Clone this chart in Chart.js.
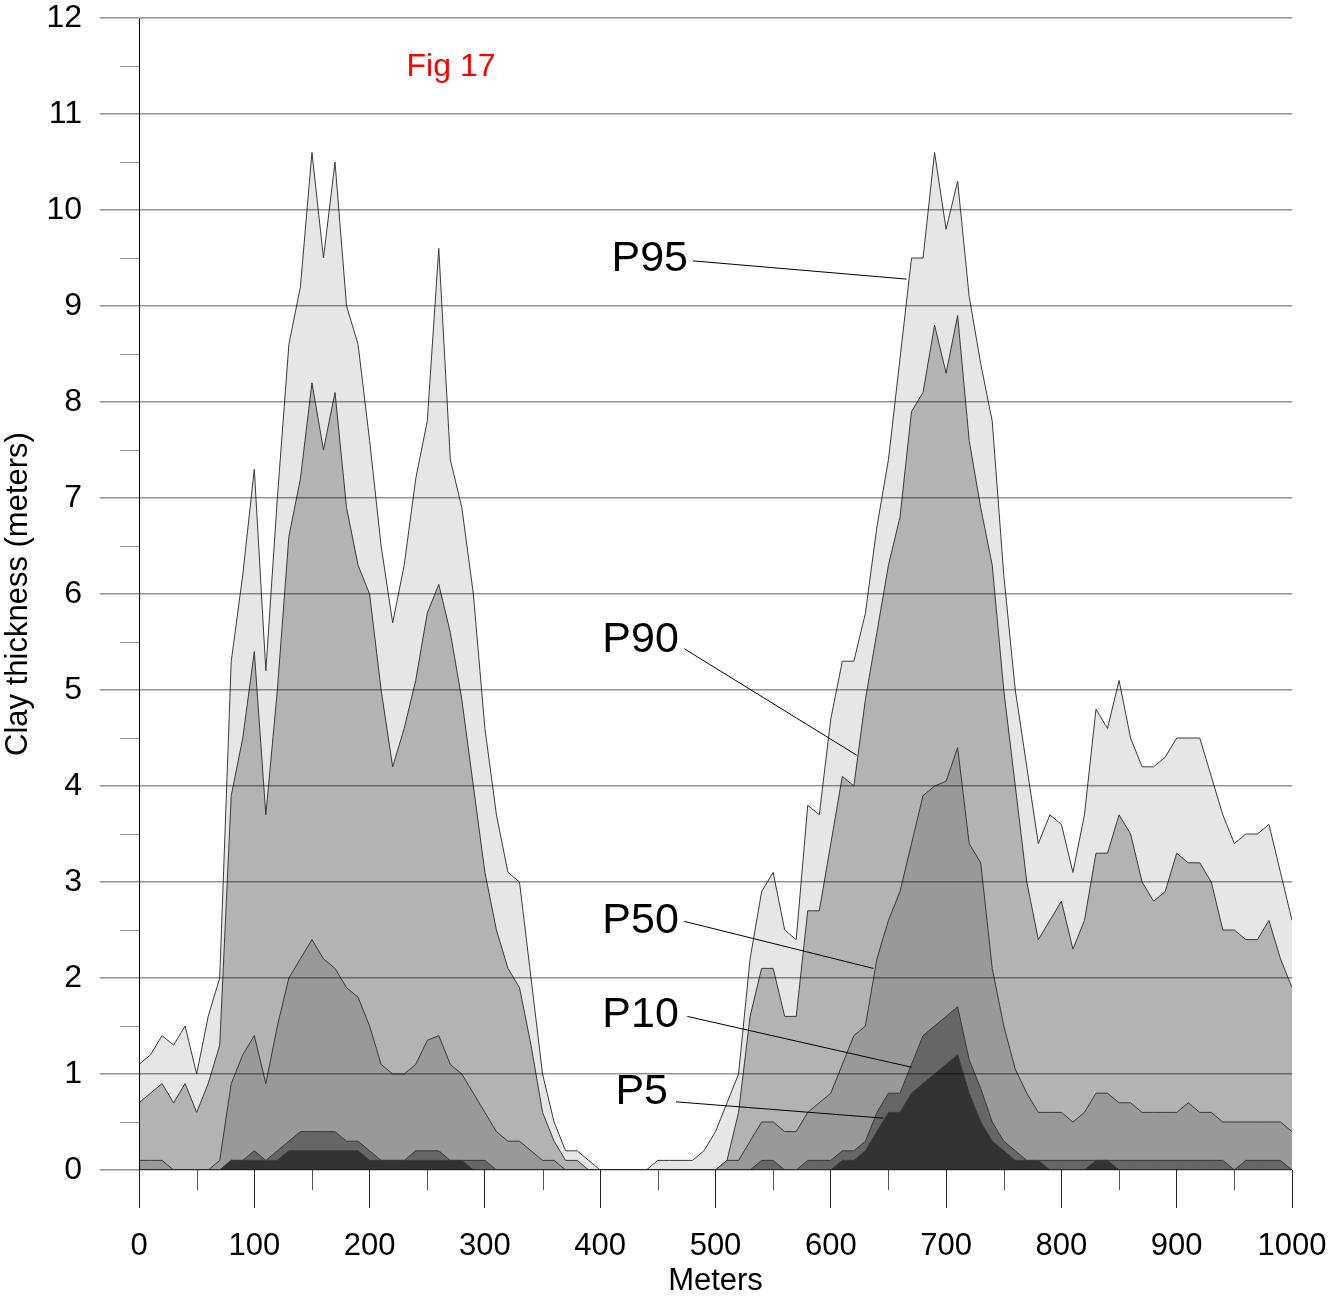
<!DOCTYPE html>
<html>
<head>
<meta charset="utf-8">
<title>Clay thickness percentiles</title>
<script src="https://cdn.jsdelivr.net/npm/chart.js@4.4.1/dist/chart.umd.min.js"></script>
<style>
  body { margin: 0; background: #fff; }
  #wrap { width: 1329px; height: 1300px; }
</style>
</head>
<body>
<div id="wrap"><canvas id="clay-chart"></canvas></div>
<script>
/*==================== data (meters along profile, clay thickness in m) ====================*/
const meters = [
    0, 10, 20, 30, 40, 50, 60, 70, 80, 90,
    100, 110, 120, 130, 140, 150, 160, 170, 180, 190,
    200, 210, 220, 230, 240, 250, 260, 270, 280, 290,
    300, 310, 320, 330, 340, 350, 360, 370, 380, 390,
    400, 410, 420, 430, 440, 450, 460, 470, 480, 490,
    500, 510, 520, 530, 540, 550, 560, 570, 580, 590,
    600, 610, 620, 630, 640, 650, 660, 670, 680, 690,
    700, 710, 720, 730, 740, 750, 760, 770, 780, 790,
    800, 810, 820, 830, 840, 850, 860, 870, 880, 890,
    900, 910, 920, 930, 940, 950, 960, 970, 980, 990,
    1000
];

const p95 = [
    1.1, 1.2, 1.4, 1.3, 1.5, 1.0, 1.6, 2.0, 5.3, 6.2,
    7.3, 5.2, 7.0, 8.6, 9.2, 10.6, 9.5, 10.5, 9.0, 8.6,
    7.6, 6.5, 5.7, 6.3, 7.2, 7.8, 9.6, 7.4, 6.9, 6.0,
    4.6, 3.7, 3.1, 3.0, 2.0, 1.0, 0.5, 0.2, 0.2, 0.1,
    0, 0, 0, 0, 0, 0.1, 0.1, 0.1, 0.1, 0.2,
    0.4, 0.7, 1.0, 2.2, 2.9, 3.1, 2.5, 2.4, 3.8, 3.7,
    4.7, 5.3, 5.3, 5.8, 6.7, 7.4, 8.45, 9.5, 9.5, 10.6,
    9.8, 10.3, 9.1, 8.4, 7.8, 6.2, 5.0, 4.2, 3.4, 3.7,
    3.6, 3.1, 3.7, 4.8, 4.6, 5.1, 4.5, 4.2, 4.2, 4.3,
    4.5, 4.5, 4.5, 4.1, 3.7, 3.4, 3.5, 3.5, 3.6, 3.1,
    2.6
];

const p90 = [
    0.7, 0.8, 0.9, 0.7, 0.9, 0.6, 0.9, 1.3, 3.9, 4.5,
    5.4, 3.7, 5.0, 6.6, 7.2, 8.2, 7.5, 8.1, 6.9, 6.3,
    6.0, 5.0, 4.2, 4.6, 5.1, 5.8, 6.1, 5.6, 4.9, 4.0,
    3.1, 2.5, 2.1, 1.9, 1.3, 0.6, 0.3, 0.1, 0.1, 0,
    0, 0, 0, 0, 0, 0, 0, 0, 0, 0,
    0, 0.1, 0.6, 1.6, 2.1, 2.1, 1.6, 1.6, 2.7, 2.7,
    3.4, 4.1, 4.0, 4.9, 5.6, 6.3, 6.8, 7.9, 8.1, 8.8,
    8.3, 8.9, 7.6, 6.9, 6.3, 5.0, 4.0, 3.0, 2.4, 2.6,
    2.8, 2.3, 2.6, 3.3, 3.3, 3.7, 3.5, 3.0, 2.8, 2.9,
    3.3, 3.2, 3.2, 3.0, 2.5, 2.5, 2.4, 2.4, 2.6, 2.2,
    1.9
];

const p50 = [
    0.1, 0.1, 0.1, 0, 0, 0, 0, 0.1, 0.9, 1.2,
    1.4, 0.9, 1.5, 2.0, 2.2, 2.4, 2.2, 2.1, 1.9, 1.8,
    1.5, 1.1, 1.0, 1.0, 1.1, 1.35, 1.4, 1.1, 1.0, 0.8,
    0.6, 0.4, 0.3, 0.3, 0.2, 0.1, 0.1, 0, 0, 0,
    0, 0, 0, 0, 0, 0, 0, 0, 0, 0,
    0, 0.1, 0.1, 0.3, 0.5, 0.5, 0.4, 0.4, 0.6, 0.7,
    0.8, 1.1, 1.4, 1.5, 2.2, 2.6, 2.9, 3.4, 3.9, 4.0,
    4.05, 4.4, 3.4, 3.2, 2.1, 1.5, 1.05, 0.8, 0.6, 0.6,
    0.6, 0.5, 0.6, 0.8, 0.8, 0.7, 0.7, 0.6, 0.6, 0.6,
    0.6, 0.7, 0.6, 0.6, 0.5, 0.5, 0.5, 0.5, 0.5, 0.5,
    0.4
];

const p10 = [
    0, 0, 0, 0, 0, 0, 0, 0, 0.1, 0.1,
    0.2, 0.1, 0.2, 0.3, 0.4, 0.4, 0.4, 0.4, 0.3, 0.3,
    0.2, 0.1, 0.1, 0.1, 0.2, 0.2, 0.2, 0.1, 0.1, 0.1,
    0.1, 0, 0, 0, 0, 0, 0, 0, 0, 0,
    0, 0, 0, 0, 0, 0, 0, 0, 0, 0,
    0, 0, 0, 0, 0.1, 0.1, 0, 0, 0.1, 0.1,
    0.1, 0.2, 0.2, 0.3, 0.6, 0.8, 0.8, 1.1, 1.4, 1.5,
    1.6, 1.7, 1.15, 0.85, 0.5, 0.3, 0.2, 0.1, 0.1, 0.1,
    0.1, 0.1, 0.1, 0.1, 0.1, 0.1, 0.1, 0.1, 0.1, 0.1,
    0.1, 0.1, 0.1, 0.1, 0.1, 0, 0.1, 0.1, 0.1, 0.1,
    0
];

const p5 = [
    0, 0, 0, 0, 0, 0, 0, 0, 0.1, 0.1,
    0.1, 0.1, 0.1, 0.2, 0.2, 0.2, 0.2, 0.2, 0.2, 0.2,
    0.1, 0.1, 0.1, 0.1, 0.1, 0.1, 0.1, 0.1, 0.1, 0,
    0, 0, 0, 0, 0, 0, 0, 0, 0, 0,
    0, 0, 0, 0, 0, 0, 0, 0, 0, 0,
    0, 0, 0, 0, 0, 0, 0, 0, 0, 0,
    0, 0.1, 0.1, 0.2, 0.4, 0.6, 0.6, 0.8, 0.9, 1.0,
    1.1, 1.2, 0.8, 0.5, 0.3, 0.2, 0.1, 0.1, 0.1, 0,
    0, 0, 0, 0.1, 0.1, 0, 0, 0, 0, 0,
    0, 0, 0, 0, 0, 0, 0, 0, 0, 0,
    0
];

const yTicks = [0, 1, 2, 3, 4, 5, 6, 7, 8, 9, 10, 11, 12];
const xTicks = [0, 100, 200, 300, 400, 500, 600, 700, 800, 900, 1000];

// percentile labels with leader lines, in axis units
const notes = [
    { text: 'P95', at: [443, 9.49], from: [480.5, 9.47], to: [665.8, 9.28] },
    { text: 'P90', at: [435, 5.52], from: [472.9, 5.43], to: [622.5, 4.32] },
    { text: 'P50', at: [435, 2.59], from: [472.9, 2.59], to: [636.9, 2.10] },
    { text: 'P10', at: [435, 1.61], from: [475.5, 1.60], to: [670.2, 1.07] },
    { text: 'P5',  at: [436, 0.81], from: [465.7, 0.71], to: [645.5, 0.54] }
];

const FONT = "'Liberation Sans', Arial, sans-serif";
const gridGray = 'rgba(0,0,0,0.42)';

function series(label, values, color) {
    return {
        label: label,
        data: values.map((v, i) => ({ x: meters[i], y: v })),
        backgroundColor: color,
        borderColor: '#3a3a3a',
        borderWidth: 1,
        fill: 'origin',
        tension: 0,
        pointRadius: 0
    };
}

// minor ticks, figure caption and percentile callouts
const extras = {
    id: 'extras',
    afterDraw(chart) {
        const ctx = chart.ctx;
        const x = chart.scales.x;
        const y = chart.scales.y;
        ctx.save();

        ctx.lineWidth = 1;
        ctx.strokeStyle = gridGray;
        for (let v = 0.5; v < 12; v += 1) {
            const py = Math.round(y.getPixelForValue(v)) + 0.5;
            ctx.beginPath();
            ctx.moveTo(y.right - 19, py);
            ctx.lineTo(y.right, py);
            ctx.stroke();
        }
        ctx.strokeStyle = '#555';
        for (let v = 50; v < 1000; v += 100) {
            const px = Math.round(x.getPixelForValue(v)) + 0.5;
            ctx.beginPath();
            ctx.moveTo(px, x.top);
            ctx.lineTo(px, x.top + 20);
            ctx.stroke();
        }

        ctx.textAlign = 'center';
        ctx.textBaseline = 'middle';
        ctx.fillStyle = '#ff0000';
        ctx.font = '32px ' + FONT;
        ctx.fillText('Fig 17', x.getPixelForValue(270.6), y.getPixelForValue(11.49));

        ctx.fillStyle = '#000';
        ctx.strokeStyle = '#000';
        ctx.font = '43px ' + FONT;
        notes.forEach(n => {
            ctx.fillText(n.text, x.getPixelForValue(n.at[0]), y.getPixelForValue(n.at[1]));
            ctx.beginPath();
            ctx.moveTo(x.getPixelForValue(n.from[0]), y.getPixelForValue(n.from[1]));
            ctx.lineTo(x.getPixelForValue(n.to[0]), y.getPixelForValue(n.to[1]));
            ctx.stroke();
        });
        ctx.restore();
    }
};

const clay_chart = new Chart(document.getElementById('clay-chart'), {
    type: 'line',
    data: {
        // first dataset is drawn on top
        datasets: [
            series('P5', p5, '#333333'),
            series('P10', p10, '#666666'),
            series('P50', p50, '#999999'),
            series('P90', p90, '#b3b3b3'),
            series('P95', p95, '#e6e6e6')
        ]
    },
    options: {
        responsive: true,
        maintainAspectRatio: false,
        animation: false,
        devicePixelRatio: 1,
        layout: { padding: { top: 18, right: 37, left: 0, bottom: 0 } },
        plugins: {
            legend: { display: false },
            tooltip: { enabled: false }
        },
        scales: {
            x: {
                type: 'linear',
                min: 0,
                max: 1000,
                afterBuildTicks: s => { s.ticks = xTicks.map(v => ({ value: v })); },
                afterFit: s => {
                    s.height = 130;
                    s.paddingLeft = 0;
                    s.paddingRight = 0;
                },
                grid: {
                    drawOnChartArea: false,
                    tickLength: 38,
                    color: '#222',
                    lineWidth: 1
                },
                border: { display: false },
                ticks: {
                    color: '#000',
                    padding: 20,
                    maxRotation: 0,
                    callback: v => String(v),
                    font: { family: FONT, size: 31 }
                },
                title: {
                    display: true,
                    text: 'Meters',
                    color: '#000',
                    padding: 0,
                    font: { family: FONT, size: 31 }
                }
            },
            y: {
                min: 0,
                max: 12,
                afterBuildTicks: s => { s.ticks = yTicks.map(v => ({ value: v })); },
                afterFit: s => {
                    s.width = 139;
                    s.paddingTop = 0;
                    s.paddingBottom = 0;
                },
                grid: {
                    z: 1,
                    color: gridGray,
                    lineWidth: 1.5,
                    tickLength: 39
                },
                border: { display: true, color: '#000', width: 1, z: 1 },
                ticks: {
                    color: '#000',
                    padding: 18,
                    font: { family: FONT, size: 32 }
                },
                title: {
                    display: true,
                    text: 'Clay thickness (meters)',
                    color: '#000',
                    padding: 0,
                    font: { family: FONT, size: 31 }
                }
            }
        }
    },
    plugins: [extras]
});
</script>
</body>
</html>
